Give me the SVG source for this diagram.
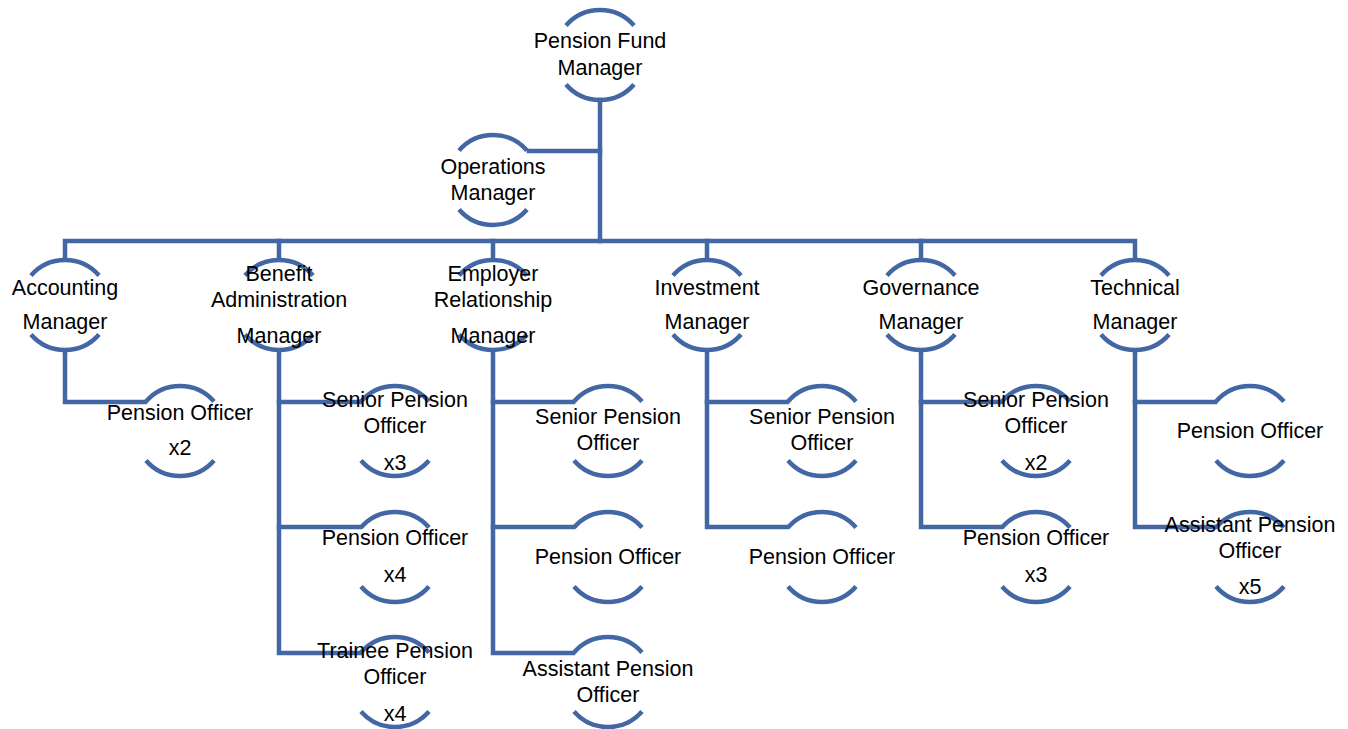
<svg xmlns="http://www.w3.org/2000/svg" width="1348" height="729" viewBox="0 0 1348 729">
<defs>
<style>
.arc{fill:none;stroke:#4267A4;stroke-width:4.5;stroke-linecap:butt}
.con{fill:none;stroke:#4267A4;stroke-width:4.5;stroke-linejoin:miter;stroke-linecap:square}
text{font-family:"Liberation Sans",Arial,sans-serif;font-size:21.5px;fill:#000;text-anchor:middle}
</style>
<g id="shape">
<path class="arc" d="M-34,-29.5 A45 45 0 0 1 34,-29.5"/>
<path class="arc" d="M-34,29.5 A45 45 0 0 0 34,29.5"/>
</g>
</defs>
<rect width="1348" height="729" fill="#fff"/>
<g id="connectors">
<polyline class="con" points="600,100 600,241"/>
<polyline class="con" points="529,151 600,151"/>
<polyline class="con" points="65,259 65,241 1135,241 1135,259"/>
<polyline class="con" points="279,241 279,259"/>
<polyline class="con" points="493,241 493,259"/>
<polyline class="con" points="707,241 707,259"/>
<polyline class="con" points="921,241 921,259"/>
<polyline class="con" points="65,351 65,402 145,402"/>
<polyline class="con" points="279,351 279,653 360,653"/>
<polyline class="con" points="279,402 360,402"/>
<polyline class="con" points="279,527 360,527"/>
<polyline class="con" points="493,351 493,653 573,653"/>
<polyline class="con" points="493,402 573,402"/>
<polyline class="con" points="493,527 573,527"/>
<polyline class="con" points="707,351 707,527 787,527"/>
<polyline class="con" points="707,402 787,402"/>
<polyline class="con" points="921,351 921,527 1001,527"/>
<polyline class="con" points="921,402 1001,402"/>
<polyline class="con" points="1135,351 1135,527 1215,527"/>
<polyline class="con" points="1135,402 1215,402"/>
</g>
<g id="pension-fund-manager"><use href="#shape" x="600" y="55"/><text x="600" y="48">Pension Fund</text><text x="600" y="75">Manager</text></g>
<g id="operations-manager"><use href="#shape" x="493" y="180"/><text x="493" y="174">Operations</text><text x="493" y="200">Manager</text></g>
<g id="accounting-manager"><use href="#shape" x="65" y="305"/><text x="65" y="295">Accounting</text><text x="65" y="329">Manager</text></g>
<g id="benefit-admin-manager"><use href="#shape" x="279" y="305"/><text x="279" y="281">Benefit</text><text x="279" y="307">Administration</text><text x="279" y="343">Manager</text></g>
<g id="employer-relationship-manager"><use href="#shape" x="493" y="305"/><text x="493" y="281">Employer</text><text x="493" y="307">Relationship</text><text x="493" y="343">Manager</text></g>
<g id="investment-manager"><use href="#shape" x="707" y="305"/><text x="707" y="295">Investment</text><text x="707" y="329">Manager</text></g>
<g id="governance-manager"><use href="#shape" x="921" y="305"/><text x="921" y="295">Governance</text><text x="921" y="329">Manager</text></g>
<g id="technical-manager"><use href="#shape" x="1135" y="305"/><text x="1135" y="295">Technical</text><text x="1135" y="329">Manager</text></g>
<g id="acc-pension-officer"><use href="#shape" x="180" y="431"/><text x="180" y="420">Pension Officer</text><text x="180" y="455">x2</text></g>
<g id="ben-senior-pension-officer"><use href="#shape" x="395" y="431"/><text x="395" y="407">Senior Pension</text><text x="395" y="433">Officer</text><text x="395" y="470">x3</text></g>
<g id="ben-pension-officer"><use href="#shape" x="395" y="557"/><text x="395" y="545">Pension Officer</text><text x="395" y="582">x4</text></g>
<g id="ben-trainee-pension-officer"><use href="#shape" x="395" y="682"/><text x="395" y="658">Trainee Pension</text><text x="395" y="684">Officer</text><text x="395" y="721">x4</text></g>
<g id="emp-senior-pension-officer"><use href="#shape" x="608" y="431"/><text x="608" y="424">Senior Pension</text><text x="608" y="450">Officer</text></g>
<g id="emp-pension-officer"><use href="#shape" x="608" y="557"/><text x="608" y="564">Pension Officer</text></g>
<g id="emp-assistant-pension-officer"><use href="#shape" x="608" y="682"/><text x="608" y="676">Assistant Pension</text><text x="608" y="702">Officer</text></g>
<g id="inv-senior-pension-officer"><use href="#shape" x="822" y="431"/><text x="822" y="424">Senior Pension</text><text x="822" y="450">Officer</text></g>
<g id="inv-pension-officer"><use href="#shape" x="822" y="557"/><text x="822" y="564">Pension Officer</text></g>
<g id="gov-senior-pension-officer"><use href="#shape" x="1036" y="431"/><text x="1036" y="407">Senior Pension</text><text x="1036" y="433">Officer</text><text x="1036" y="470">x2</text></g>
<g id="gov-pension-officer"><use href="#shape" x="1036" y="557"/><text x="1036" y="545">Pension Officer</text><text x="1036" y="582">x3</text></g>
<g id="tech-pension-officer"><use href="#shape" x="1250" y="431"/><text x="1250" y="438">Pension Officer</text></g>
<g id="tech-assistant-pension-officer"><use href="#shape" x="1250" y="557"/><text x="1250" y="532">Assistant Pension</text><text x="1250" y="558">Officer</text><text x="1250" y="594">x5</text></g>
</svg>
